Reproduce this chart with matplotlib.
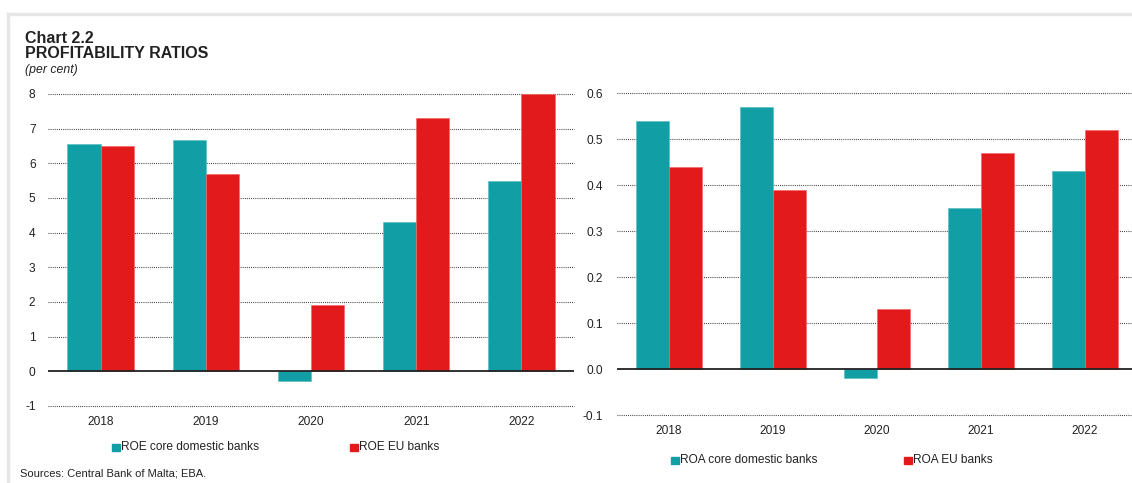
import matplotlib
matplotlib.use("Agg")
import matplotlib.pyplot as plt
import numpy as np
from matplotlib.patches import Rectangle
from matplotlib.lines import Line2D

plt.rcParams['font.family'] = ['Liberation Sans', 'DejaVu Sans']

years = ["2018", "2019", "2020", "2021", "2022"]
roe_core = [6.55, 6.67, -0.27, 4.3, 5.5]
roe_eu = [6.5, 5.7, 1.9, 7.3, 8.0]
roa_core = [0.54, 0.57, -0.02, 0.35, 0.43]
roa_eu = [0.44, 0.39, 0.13, 0.47, 0.52]

roe_ticks = [-1, 0, 1, 2, 3, 4, 5, 6, 7, 8]
roa_ticks = [-0.1, 0.0, 0.1, 0.2, 0.3, 0.4, 0.5, 0.6]

TEAL = "#119fa5"
RED = "#e31a1c"
TXT = "#222222"
W, H = 1132, 483

fig = plt.figure(figsize=(W / 100, H / 100), dpi=100)


def px_axes(x0, y0, x1, y1):
    return fig.add_axes([x0 / W, 1 - y1 / H, (x1 - x0) / W, (y1 - y0) / H])


def draw_panel(ax, core, eu, ticks, fmt, ypad):
    x = np.arange(len(years))
    bw = 0.315
    ax.bar(x - bw / 2, core, bw, color=TEAL, edgecolor="#5cc0c4", linewidth=0.5, zorder=3)
    ax.bar(x + bw / 2, eu, bw, color=RED, edgecolor="#f06a6b", linewidth=0.5, zorder=3)
    ax.set_xlim(-0.5, len(years) - 0.5)
    ax.set_ylim(ticks[0], ticks[-1])
    ax.set_yticks(ticks)
    ax.set_yticklabels([fmt(t) for t in ticks])
    ax.set_xticks(x)
    ax.set_xticklabels(years)
    for t in ticks:
        if abs(t) < 1e-9:
            ax.axhline(0, color="#222222", lw=1.3, zorder=4)
        else:
            ax.axhline(t, color="#333333", lw=0.8, ls=(0, (0.8, 1.1)), zorder=1, clip_on=False)
    for s in ax.spines.values():
        s.set_visible(False)
    ax.tick_params(axis="both", length=0, labelsize=8.6, colors=TXT)
    ax.tick_params(axis="y", pad=ypad)
    ax.tick_params(axis="x", pad=7)
    ax.patch.set_alpha(0)


ax1 = px_axes(48, 94, 574, 406)
draw_panel(ax1, roe_core, roe_eu, roe_ticks, lambda t: f"{t:d}", 9)

ax2 = px_axes(617, 93, 1137, 415)
draw_panel(ax2, roa_core, roa_eu, roa_ticks, lambda t: f"{t:.1f}", 10)

# outer frame lines
fig.add_artist(Line2D([8 / W, 1], [1 - 14 / H, 1 - 14 / H], color="#e6e6e6", lw=2.5))
fig.add_artist(Line2D([8 / W, 8 / W], [0, 1 - 14 / H], color="#e6e6e6", lw=2.5))

# headings
fig.text(25 / W, 1 - 43 / H, "Chart 2.2", fontsize=11.5, fontweight="bold", color=TXT, va="baseline")
fig.text(25 / W, 1 - 57.5 / H, "PROFITABILITY RATIOS", fontsize=11.5, fontweight="bold", color=TXT, va="baseline")
fig.text(25 / W, 1 - 73 / H, "(per cent)", fontsize=8.8, style="italic", color=TXT, va="baseline")


def legend_item(x, y, color, label):
    fig.add_artist(Rectangle((x / W, 1 - (y + 4) / H), 7.5 / W, 7.5 / H, color=color, transform=fig.transFigure))
    fig.text((x + 9) / W, 1 - y / H, label, fontsize=8.6, color=TXT, va="center")


legend_item(112, 447, TEAL, "ROE core domestic banks")
legend_item(350, 447, RED, "ROE EU banks")
legend_item(671, 460, TEAL, "ROA core domestic banks")
legend_item(904, 460, RED, "ROA EU banks")

fig.text(20 / W, 1 - 473 / H, "Sources: Central Bank of Malta; EBA.", fontsize=8, color=TXT, va="center")

fig.savefig("out.png", dpi=100)
